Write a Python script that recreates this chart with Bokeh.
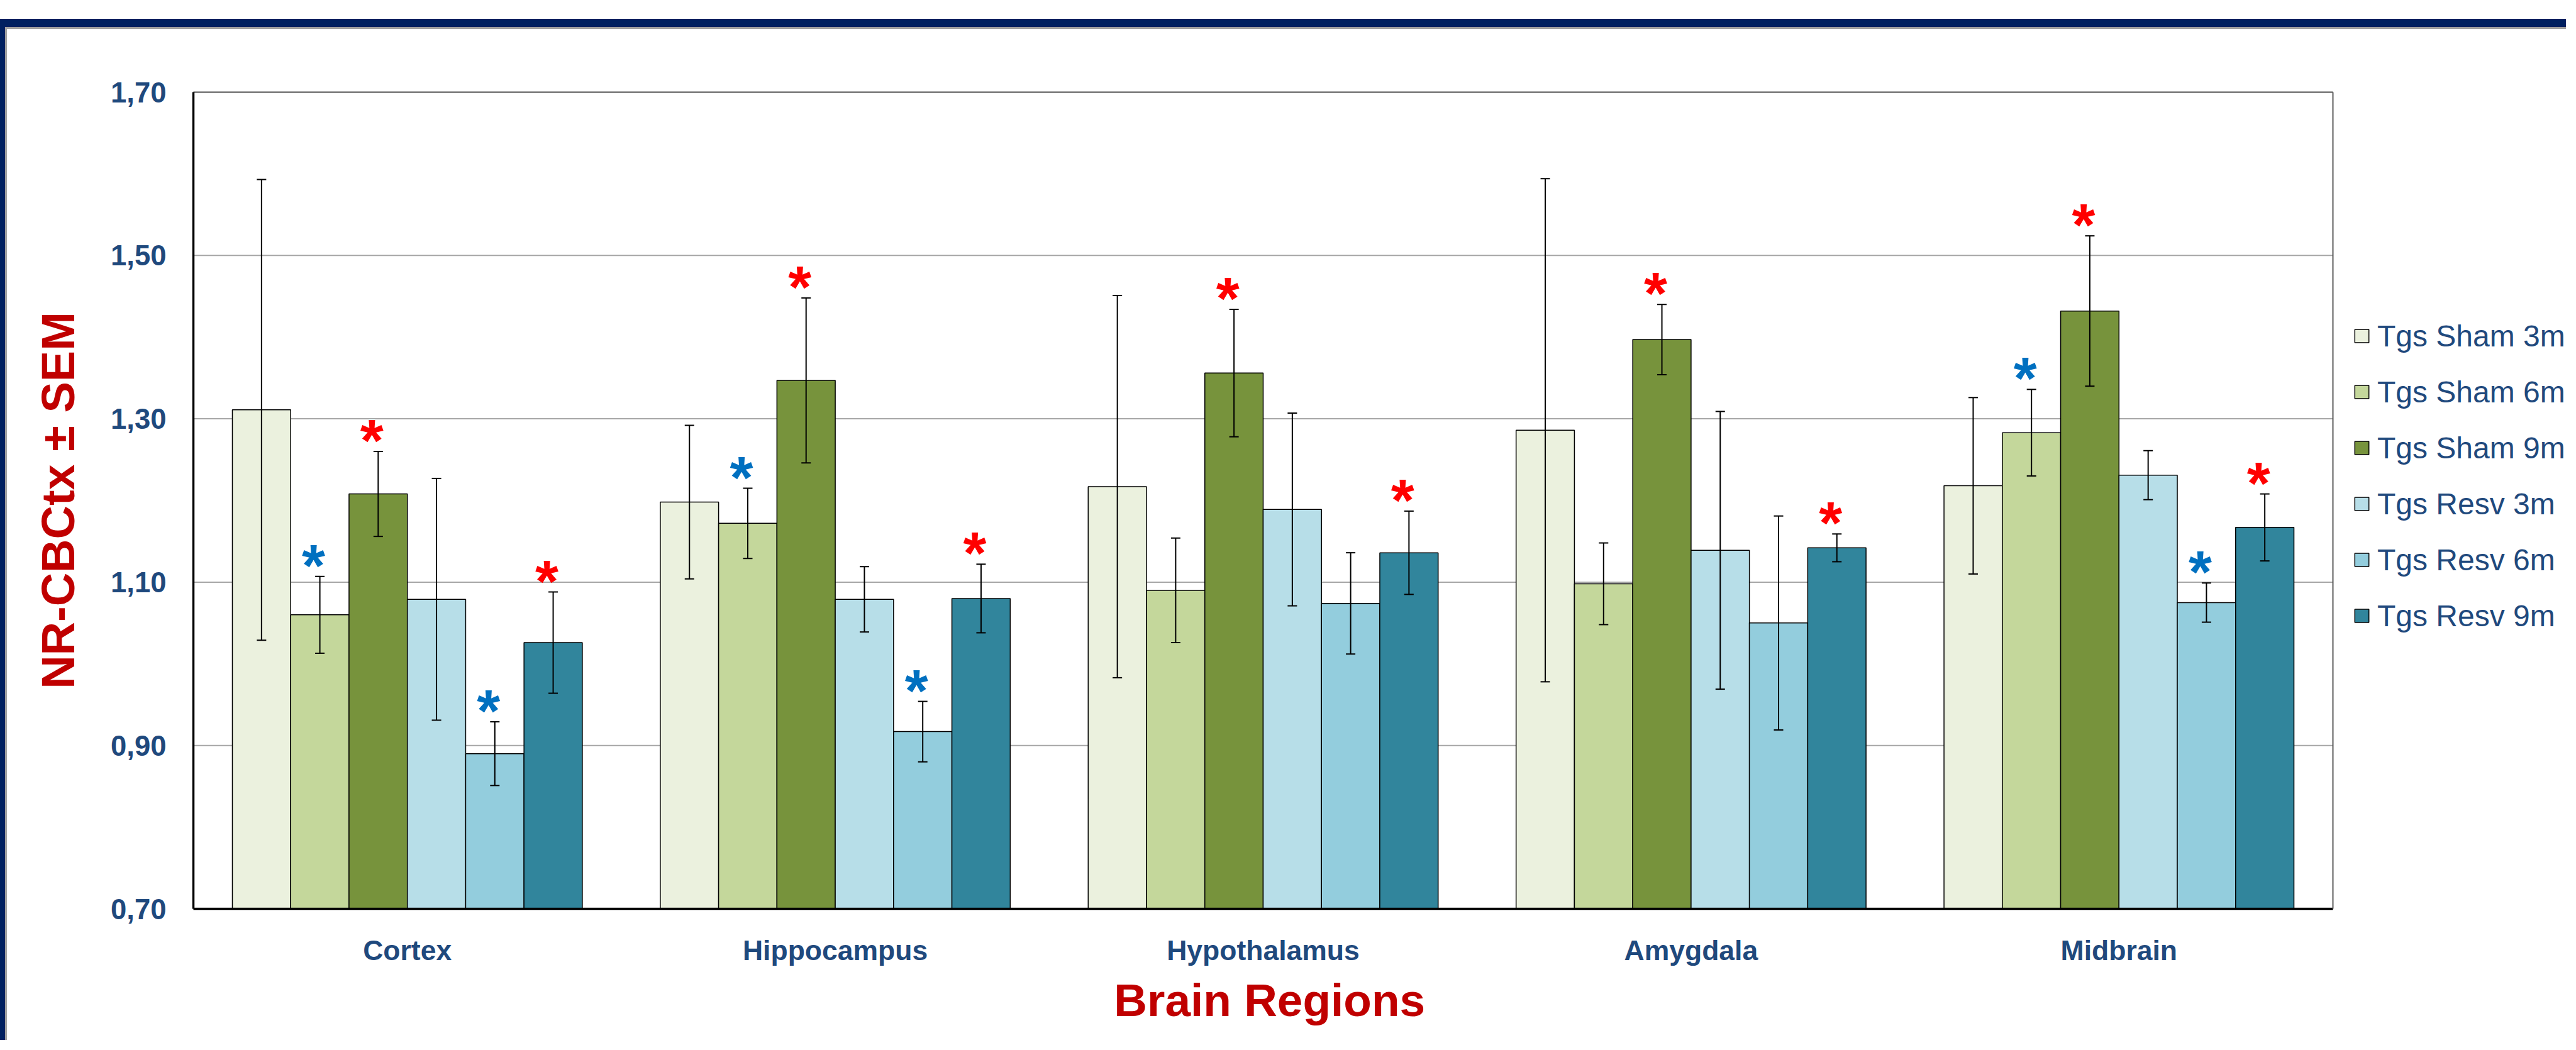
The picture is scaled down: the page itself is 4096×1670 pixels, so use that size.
from bokeh.plotting import figure
from bokeh.models import (Range1d, FixedTicker, Legend, LegendItem, LinearAxis,
                          ColumnDataSource, Span, Title)
from bokeh.core.properties import value
from bokeh.embed import file_html
from bokeh.resources import INLINE

# ---------------- data ----------------
regions = ["Cortex", "Hippocampus", "Hypothalamus", "Amygdala", "Midbrain"]
series = ["Tgs Sham 3m", "Tgs Sham 6m", "Tgs Sham 9m",
          "Tgs Resv 3m", "Tgs Resv 6m", "Tgs Resv 9m"]

sham_3m = [1.311, 1.198, 1.217, 1.286, 1.218]
sham_6m = [1.060, 1.172, 1.090, 1.098, 1.283]
sham_9m = [1.208, 1.347, 1.356, 1.397, 1.432]
resv_3m = [1.079, 1.079, 1.189, 1.139, 1.231]
resv_6m = [0.890, 0.917, 1.074, 1.050, 1.075]
resv_9m = [1.026, 1.080, 1.136, 1.142, 1.167]

sem_sham_3m = [0.282, 0.094, 0.234, 0.308, 0.108]
sem_sham_6m = [0.047, 0.043, 0.064, 0.050, 0.053]
sem_sham_9m = [0.052, 0.101, 0.078, 0.043, 0.092]
sem_resv_3m = [0.148, 0.040, 0.118, 0.170, 0.030]
sem_resv_6m = [0.039, 0.037, 0.062, 0.131, 0.024]
sem_resv_9m = [0.062, 0.042, 0.051, 0.017, 0.041]

# significance marks: "r" = red asterisk, "b" = blue asterisk, "" = none
star_sham_3m = ["", "", "", "", ""]
star_sham_6m = ["b", "b", "", "", "b"]
star_sham_9m = ["r", "r", "r", "r", "r"]
star_resv_3m = ["", "", "", "", ""]
star_resv_6m = ["b", "b", "", "", "b"]
star_resv_9m = ["r", "r", "r", "r", "r"]

tick_values = [0.70, 0.90, 1.10, 1.30, 1.50, 1.70]
tick_labels = ["0,70", "0,90", "1,10", "1,30", "1,50", "1,70"]

means = [sham_3m, sham_6m, sham_9m, resv_3m, resv_6m, resv_9m]
sems = [sem_sham_3m, sem_sham_6m, sem_sham_9m, sem_resv_3m, sem_resv_6m, sem_resv_9m]
stars = [star_sham_3m, star_sham_6m, star_sham_9m, star_resv_3m, star_resv_6m, star_resv_9m]

colors = ["#EBF1DE", "#C4D79B", "#77933C", "#B7DEE8", "#93CDDD", "#31859C"]
star_colors = {"r": "#FF0000", "b": "#0070C0"}

# ---------------- layout (pixels) ----------------
W, H = 4080, 1654
BORDER_L, BORDER_T, BORDER_B = 307, 146, 209
PLOT_R = 3709                       # right edge of the chart area
n_cat = len(regions)
cat_px = (PLOT_R - BORDER_L) / n_cat
x_end = (W - BORDER_L) / cat_px     # frame extends under the legend area

p = figure(x_range=Range1d(0, x_end), y_range=Range1d(0.70, 1.70),
           width=W, height=H, output_backend="svg", toolbar_location=None,
           min_border_left=BORDER_L, min_border_right=0,
           min_border_top=BORDER_T, min_border_bottom=BORDER_B)
p.background_fill_color = "white"
p.border_fill_alpha = 0
p.outline_line_color = None
p.grid.grid_line_color = None

xa = p.below[0]
ya = p.left[0]

# outer navy frame (top and left edges) painted as CSS backgrounds
NAVY = "#002060"
SHADOW = "#A0A0A0"
p.styles = {
    "background-color": "white",
    "background-image": ", ".join([
        f"linear-gradient({NAVY}, {NAVY})",
        f"linear-gradient({NAVY}, {NAVY})",
        f"linear-gradient({SHADOW}, {SHADOW})",
        f"linear-gradient({SHADOW}, {SHADOW})",
    ]),
    "background-position": "0px 30px, 0px 30px, 8px 43px, 8px 43px",
    "background-size": "100% 13px, 8px 100%, 100% 3px, 3px 100%",
    "background-repeat": "no-repeat",
}

FONT = "Liberation Sans"
BLUE = "#1F497D"
RED = "#C00000"

# horizontal gridlines, limited to the chart area
p.segment(x0=[0] * len(tick_values), x1=[n_cat] * len(tick_values),
          y0=tick_values, y1=tick_values, line_color="#A6A6A6", line_width=2,
          level="underlay")

# top edge of the chart area (axis above, no ticks or labels)
top_axis = LinearAxis(ticker=FixedTicker(ticks=[]), bounds=(0, n_cat),
                      axis_line_color="#595959", axis_line_width=2,
                      major_tick_line_color=None, minor_tick_line_color=None,
                      major_tick_in=0, major_tick_out=0,
                      minor_tick_in=0, minor_tick_out=0,
                      major_label_standoff=0,
                      major_label_text_font_size="0px")
p.add_layout(top_axis, "above")
# right edge of the chart area
p.add_layout(Span(location=n_cat, dimension="height", line_color="#595959",
                  line_width=2))

xa.ticker = FixedTicker(ticks=[k + 0.5 for k in range(n_cat)])
xa.major_label_overrides = {k + 0.5: r for k, r in enumerate(regions)}
xa.bounds = (0, n_cat)
ya.ticker = FixedTicker(ticks=tick_values)
ya.major_label_overrides = {v: l for v, l in zip(tick_values, tick_labels)}
for ax in (xa, ya):
    ax.axis_line_color = "black"
    ax.axis_line_width = 3.5
    ax.major_tick_line_color = None
    ax.minor_tick_line_color = None
    ax.major_tick_in = 0
    ax.major_tick_out = 0
    ax.minor_tick_in = 0
    ax.minor_tick_out = 0
    ax.major_label_text_font = FONT
    ax.major_label_text_font_style = "bold"
    ax.major_label_text_color = BLUE
    ax.axis_label_text_font = FONT
    ax.axis_label_text_font_style = "bold"
    ax.axis_label_text_color = RED

ya.major_label_text_font_size = "45.5px"
ya.major_label_standoff = 43
ya.axis_label = "NR-CBCtx \u00b1 SEM"
ya.axis_label_text_font_size = "74px"
ya.axis_label_standoff = 39

xa.major_label_text_font_size = "44.5px"
xa.major_label_standoff = 41

# x-axis title, centred under the chart area (not under the legend area)
TITLE_SIZE = 73
title_text = "Brain Regions"
title_w = 6.5 * TITLE_SIZE           # approximate rendered width
x_title = Title(text=title_text, align="left",
                offset=(PLOT_R - BORDER_L) / 2 - title_w / 2,
                vertical_align="bottom", standoff=18,
                text_font=FONT, text_font_style="bold",
                text_font_size=f"{TITLE_SIZE}px", text_color=RED)
p.add_layout(x_title, "below")

# ---------------- bars, error bars, asterisks ----------------
n = len(series)
bw = 0.1363
bar_renderers = []
for i in range(n):
    off = (i - (n - 1) / 2) * bw
    xs = [k + 0.5 + off for k in range(n_cat)]
    src = ColumnDataSource(dict(x=xs, top=means[i]))
    r = p.vbar(x="x", top="top", bottom=0, width=bw, source=src,
               fill_color=colors[i], line_color="black", line_width=1.5)
    bar_renderers.append(r)

for i in range(n):
    off = (i - (n - 1) / 2) * bw
    xs = [k + 0.5 + off for k in range(n_cat)]
    lo = [m - s for m, s in zip(means[i], sems[i])]
    hi = [m + s for m, s in zip(means[i], sems[i])]
    src = ColumnDataSource(dict(x=xs, lo=lo, hi=hi))
    p.segment(x0="x", y0="lo", x1="x", y1="hi", source=src,
              line_color="black", line_width=2)
    p.scatter(x="x", y="lo", marker="dash", size=15, source=src,
              line_color="black", line_width=2)
    p.scatter(x="x", y="hi", marker="dash", size=15, source=src,
              line_color="black", line_width=2)

    sel = [k for k in range(n_cat) if stars[i][k]]
    if sel:
        ssrc = ColumnDataSource(dict(
            x=[xs[k] for k in sel],
            y=[hi[k] + 0.03 for k in sel],
            txt=["*" for k in sel],
            col=[star_colors[stars[i][k]] for k in sel]))
        p.text(x="x", y="y", text="txt",
               text_color="col", source=ssrc, text_font=value(FONT),
               text_font_style="bold", text_font_size="95px",
               text_align="center", text_baseline="middle",
               x_offset=-10, y_offset=21)

# ---------------- legend (right of the chart area) ----------------
legend = Legend(items=[LegendItem(label=s, renderers=[r])
                       for s, r in zip(series, bar_renderers)],
                location=(3434, 438), orientation="vertical",
                glyph_width=28, glyph_height=26, label_height=56,
                label_standoff=11, spacing=33, padding=0, margin=0,
                border_line_alpha=0, background_fill_alpha=0,
                label_text_font=FONT, label_text_font_size="48px",
                label_text_color=BLUE)
p.add_layout(legend)

open("out.html", "w").write(file_html(p, INLINE))
